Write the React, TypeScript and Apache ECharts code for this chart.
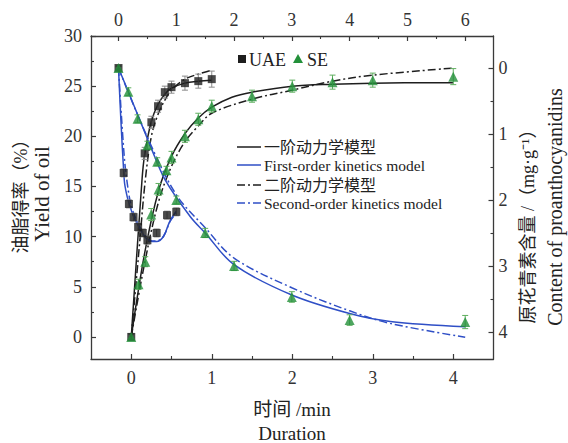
import React, { useEffect, useRef } from "react";
import * as echarts from "echarts";

// ---- tick values ----
const BOTTOM_TICKS = [0, 1, 2, 3, 4];
const BOTTOM_MINOR = [0.5, 1.5, 2.5, 3.5];
const TOP_TICKS = [0, 1, 2, 3, 4, 5, 6];
const TOP_MINOR = [0.5, 1.5, 2.5, 3.5, 4.5, 5.5];
const LEFT_TICKS = [0, 5, 10, 15, 20, 25, 30];
const LEFT_MINOR = [2.5, 7.5, 12.5, 17.5, 22.5, 27.5];
const RIGHT_TICKS = [0, 1, 2, 3, 4];
const RIGHT_MINOR = [0.5, 1.5, 2.5, 3.5];

// ---- measured data: yield (bottom / left axes) ----
const uaeYieldT = [0, 0.167, 0.25, 0.333, 0.417, 0.5, 0.667, 0.833, 1.0];
const uaeYield = [0, 18.3, 21.4, 23.0, 24.4, 24.9, 25.3, 25.5, 25.7];
const uaeYieldErr = [0.3, 0.6, 0.6, 0.6, 0.6, 0.6, 0.7, 0.7, 0.8];

const seYieldT = [0, 0.09, 0.174, 0.248, 0.339, 0.5, 0.667, 0.833, 1.0, 1.5, 2.0, 2.5, 3.0, 4.0];
const seYield = [0, 5.25, 7.5, 12.2, 14.7, 17.9, 20.0, 21.7, 23.0, 24.0, 25.0, 25.4, 25.6, 25.95];
const seYieldErr = [0.3, 0.5, 0.5, 0.6, 0.6, 0.6, 0.6, 0.6, 0.6, 0.6, 0.6, 0.7, 0.7, 0.8];

// ---- measured data: proanthocyanidins (top / right axes) ----
const uaeContT = [0, 0.09, 0.18, 0.26, 0.34, 0.42, 0.5, 0.66, 0.84, 1.0];
const uaeCont = [0, 1.59, 2.06, 2.26, 2.41, 2.5, 2.61, 2.5, 2.23, 2.18];
const uaeContErr = [0.03, 0.06, 0.06, 0.06, 0.06, 0.06, 0.06, 0.06, 0.06, 0.06];

const seContT = [0, 0.17, 0.33, 0.5, 0.67, 0.83, 1.0, 1.5, 2.0, 3.0, 4.0, 6.0];
const seCont = [0, 0.36, 0.77, 1.17, 1.42, 1.55, 2.0, 2.5, 3.0, 3.47, 3.82, 3.85];
const seContErr = [0.03, 0.06, 0.06, 0.06, 0.06, 0.06, 0.06, 0.07, 0.07, 0.08, 0.08, 0.1];

// ---- model curves ----
const uaeYieldFo = [[0, 0], [0.133, 15.6], [0.167, 18.2], [0.25, 21.5], [0.333, 23.2], [0.417, 24.2], [0.5, 24.8], [0.667, 25.3], [0.833, 25.5], [1.0, 25.6]];
const uaeYieldSo = [[0, 0], [0.1, 9.0], [0.174, 15.6], [0.25, 20.0], [0.333, 22.2], [0.417, 23.6], [0.5, 24.6], [0.667, 25.7], [0.833, 26.2], [1.0, 26.6]];
const seYieldFo = [[0, 0], [0.17, 8.5], [0.34, 14.6], [0.5, 18.0], [0.67, 20.3], [0.83, 21.8], [1.0, 22.9], [1.25, 23.9], [1.5, 24.4], [2.0, 25.0], [2.5, 25.2], [3.0, 25.3], [4.0, 25.35]];
const seYieldSo = [[0, 0], [0.17, 7.5], [0.34, 13.5], [0.5, 17.0], [0.67, 19.5], [0.83, 21.0], [1.0, 22.3], [1.5, 23.7], [2.0, 24.6], [2.5, 25.5], [3.0, 26.1], [4.0, 26.8]];
const uaeContFo = [[0, 0], [0.1, 1.7], [0.15, 1.95], [0.2, 2.1], [0.26, 2.25], [0.35, 2.4], [0.46, 2.56], [0.58, 2.63], [0.66, 2.63], [0.78, 2.55], [0.89, 2.32], [1.0, 2.17]];
const uaeContSo = [[0, 0], [0.1, 1.35], [0.16, 1.8], [0.21, 2.05], [0.27, 2.22], [0.35, 2.38], [0.46, 2.54], [0.58, 2.62], [0.66, 2.62], [0.78, 2.55], [0.89, 2.33], [1.0, 2.2]];
const seContFo = [[0, 0], [0.17, 0.36], [0.37, 0.79], [0.55, 1.18], [0.81, 1.7], [1.24, 2.25], [1.5, 2.5], [2.0, 2.98], [3.0, 3.44], [4.0, 3.72], [4.7, 3.84], [6.0, 3.92]];
const seContSo = [[0, 0], [0.5, 1.05], [1.0, 1.92], [1.5, 2.42], [2.0, 2.88], [3.0, 3.33], [4.0, 3.68], [4.7, 3.87], [6.0, 4.08]];

const SERIF = "'Liberation Serif', 'Noto Sans CJK SC', serif";
const BLACK = "#1e1e1e";
const BLUE = "#2f4fc6";
const GREEN = "#23903a";
const AXC = "#3a3a3a";

function pairs(t: number[], v: number[]) {
  return t.map((x, i) => [x, v[i]]);
}
function errData(t: number[], v: number[], e: number[]) {
  return t.map((x, i) => [x, v[i] - e[i], v[i] + e[i]]);
}
function errRender(color: string) {
  return (params: any, api: any) => {
    const x = api.value(0);
    const p1 = api.coord([x, api.value(1)]);
    const p2 = api.coord([x, api.value(2)]);
    const w = 3;
    const st = { stroke: color, lineWidth: 1 };
    return {
      type: "group",
      children: [
        { type: "line", shape: { x1: p1[0], y1: p1[1], x2: p2[0], y2: p2[1] }, style: st },
        { type: "line", shape: { x1: p1[0] - w, y1: p1[1], x2: p1[0] + w, y2: p1[1] }, style: st },
        { type: "line", shape: { x1: p2[0] - w, y1: p2[1], x2: p2[0] + w, y2: p2[1] }, style: st },
      ],
    };
  };
}

function mainAxis(position: string, min: number, max: number, ticks: number[], margin: number, inverse = false) {
  return {
    type: "value",
    position,
    min,
    max,
    inverse,
    offset: 0,
    axisLine: { show: true, onZero: false, lineStyle: { color: AXC, width: 1.3 } },
    splitLine: { show: false },
    axisTick: { show: true, inside: true, length: 5, customValues: ticks, lineStyle: { color: AXC, width: 1.2 } },
    axisLabel: {
      show: true,
      customValues: ticks,
      margin,
      fontFamily: SERIF,
      fontSize: 18,
      color: "#333",
      formatter: (v: number) => String(v),
    },
  };
}
function minorAxis(position: string, min: number, max: number, ticks: number[], inverse = false) {
  return {
    type: "value",
    position,
    min,
    max,
    inverse,
    offset: 0,
    axisLine: { show: false, onZero: false },
    splitLine: { show: false },
    axisTick: { show: true, inside: true, length: 3, customValues: ticks, lineStyle: { color: AXC, width: 1.1 } },
    axisLabel: { show: false },
  };
}

const dashDot = [8, 3, 2, 3];

export default function App() {
  const ref = useRef<HTMLDivElement>(null);
  useEffect(() => {
    if (!ref.current) return;
    const chart = echarts.init(ref.current, undefined, { renderer: "svg" });
    const lineS = (data: number[][], color: string, dashed: boolean, xi: number, yi: number) => ({
      type: "line",
      data,
      xAxisIndex: xi,
      yAxisIndex: yi,
      smooth: 0.35,
      showSymbol: false,
      symbol: "none",
      silent: true,
      z: 2,
      lineStyle: { color, width: 1.5, type: dashed ? dashDot : "solid" },
    });
    const title = (text: string, x: number, y: number, size: number, rot = 0) => ({
      type: "text",
      x,
      y,
      rotation: rot,
      style: { text, font: `${size}px ${SERIF}`, fill: "#222", textAlign: "center", textVerticalAlign: "middle" },
    });
    const option: any = {
      animation: false,
      textStyle: { fontFamily: SERIF },
      grid: { left: 91, right: 74.5, top: 36, bottom: 84, containLabel: false },
      xAxis: [
        mainAxis("bottom", -0.5, 4.5, BOTTOM_TICKS, 10),
        mainAxis("top", -0.476, 6.49, TOP_TICKS, 7),
        minorAxis("bottom", -0.5, 4.5, BOTTOM_MINOR),
        minorAxis("top", -0.476, 6.49, TOP_MINOR),
      ],
      yAxis: [
        mainAxis("left", -2.2, 30, LEFT_TICKS, 9),
        mainAxis("right", -0.485, 4.41, RIGHT_TICKS, 5, true),
        minorAxis("left", -2.2, 30, LEFT_MINOR),
        minorAxis("right", -0.485, 4.41, RIGHT_MINOR, true),
      ],
      series: [
        lineS(uaeYieldFo, BLACK, false, 0, 0),
        lineS(uaeYieldSo, BLACK, true, 0, 0),
        lineS(seYieldFo, BLACK, false, 0, 0),
        lineS(seYieldSo, BLACK, true, 0, 0),
        lineS(uaeContFo, BLUE, false, 1, 1),
        lineS(uaeContSo, BLUE, true, 1, 1),
        lineS(seContFo, BLUE, false, 1, 1),
        lineS(seContSo, BLUE, true, 1, 1),
        {
          type: "custom", xAxisIndex: 0, yAxisIndex: 0, z: 3, silent: true,
          renderItem: errRender("#8a8a8a"), encode: { x: 0, y: [1, 2] },
          data: errData(uaeYieldT, uaeYield, uaeYieldErr),
        },
        {
          type: "custom", xAxisIndex: 1, yAxisIndex: 1, z: 3, silent: true,
          renderItem: errRender("#8a8a8a"), encode: { x: 0, y: [1, 2] },
          data: errData(uaeContT, uaeCont, uaeContErr),
        },
        {
          type: "custom", xAxisIndex: 0, yAxisIndex: 0, z: 3, silent: true,
          renderItem: errRender("#5fae5f"), encode: { x: 0, y: [1, 2] },
          data: errData(seYieldT, seYield, seYieldErr),
        },
        {
          type: "custom", xAxisIndex: 1, yAxisIndex: 1, z: 3, silent: true,
          renderItem: errRender("#5fae5f"), encode: { x: 0, y: [1, 2] },
          data: errData(seContT, seCont, seContErr),
        },
        {
          name: "UAE yield", type: "scatter", xAxisIndex: 0, yAxisIndex: 0, z: 4,
          symbol: "rect", symbolSize: 8, itemStyle: { color: BLACK },
          data: pairs(uaeYieldT, uaeYield),
        },
        {
          name: "UAE content", type: "scatter", xAxisIndex: 1, yAxisIndex: 1, z: 4,
          symbol: "rect", symbolSize: 8, itemStyle: { color: BLACK },
          data: pairs(uaeContT, uaeCont),
        },
        {
          name: "SE yield", type: "scatter", xAxisIndex: 0, yAxisIndex: 0, z: 5,
          symbol: "triangle", symbolSize: 10, itemStyle: { color: GREEN },
          data: pairs(seYieldT, seYield),
        },
        {
          name: "SE content", type: "scatter", xAxisIndex: 1, yAxisIndex: 1, z: 5,
          symbol: "triangle", symbolSize: 10, itemStyle: { color: GREEN },
          data: pairs(seContT, seCont),
        },
      ],
      graphic: [
        // marker legend
        { type: "rect", shape: { x: 238, y: 55, width: 8, height: 8 }, style: { fill: BLACK } },
        { type: "text", x: 249, y: 60, style: { text: "UAE", font: `18px ${SERIF}`, fill: "#222", textVerticalAlign: "middle" } },
        { type: "polygon", shape: { points: [[293, 63], [303, 63], [298, 54]] }, style: { fill: GREEN } },
        { type: "text", x: 307, y: 60, style: { text: "SE", font: `18px ${SERIF}`, fill: "#222", textVerticalAlign: "middle" } },
        // model legend
        { type: "line", shape: { x1: 237, y1: 147, x2: 261, y2: 147 }, style: { stroke: BLACK, lineWidth: 1.5 } },
        { type: "text", x: 264, y: 147, style: { text: "一阶动力学模型", font: `16px ${SERIF}`, fill: "#222", textVerticalAlign: "middle" } },
        { type: "line", shape: { x1: 237, y1: 165, x2: 261, y2: 165 }, style: { stroke: BLUE, lineWidth: 1.5 } },
        { type: "text", x: 264, y: 165, style: { text: "First-order kinetics model", font: `15.5px ${SERIF}`, fill: "#222", textVerticalAlign: "middle" } },
        { type: "line", shape: { x1: 237, y1: 185, x2: 261, y2: 185 }, style: { stroke: BLACK, lineWidth: 1.5, lineDash: dashDot } },
        { type: "text", x: 264, y: 185, style: { text: "二阶动力学模型", font: `16px ${SERIF}`, fill: "#222", textVerticalAlign: "middle" } },
        { type: "line", shape: { x1: 237, y1: 203, x2: 261, y2: 203 }, style: { stroke: BLUE, lineWidth: 1.5, lineDash: dashDot } },
        { type: "text", x: 264, y: 203, style: { text: "Second-order kinetics model", font: `15.5px ${SERIF}`, fill: "#222", textVerticalAlign: "middle" } },
        // axis titles
        title("时间 /min", 292, 409, 19),
        title("Duration", 292, 433, 19),
        title("油脂得率（%）", 21, 192, 18, Math.PI / 2),
        title("Yield of oil", 42, 194, 21, Math.PI / 2),
        title("原花青素含量 /（mg·g⁻¹）", 528, 222, 18, Math.PI / 2),
        title("Content of proanthocyanidins", 555, 207, 20, Math.PI / 2),
      ],
    };
    chart.setOption(option);
    return () => chart.dispose();
  }, []);
  return <div ref={ref} style={{ position: "absolute", left: 0, top: 0, width: 568, height: 443 }} />;
}
